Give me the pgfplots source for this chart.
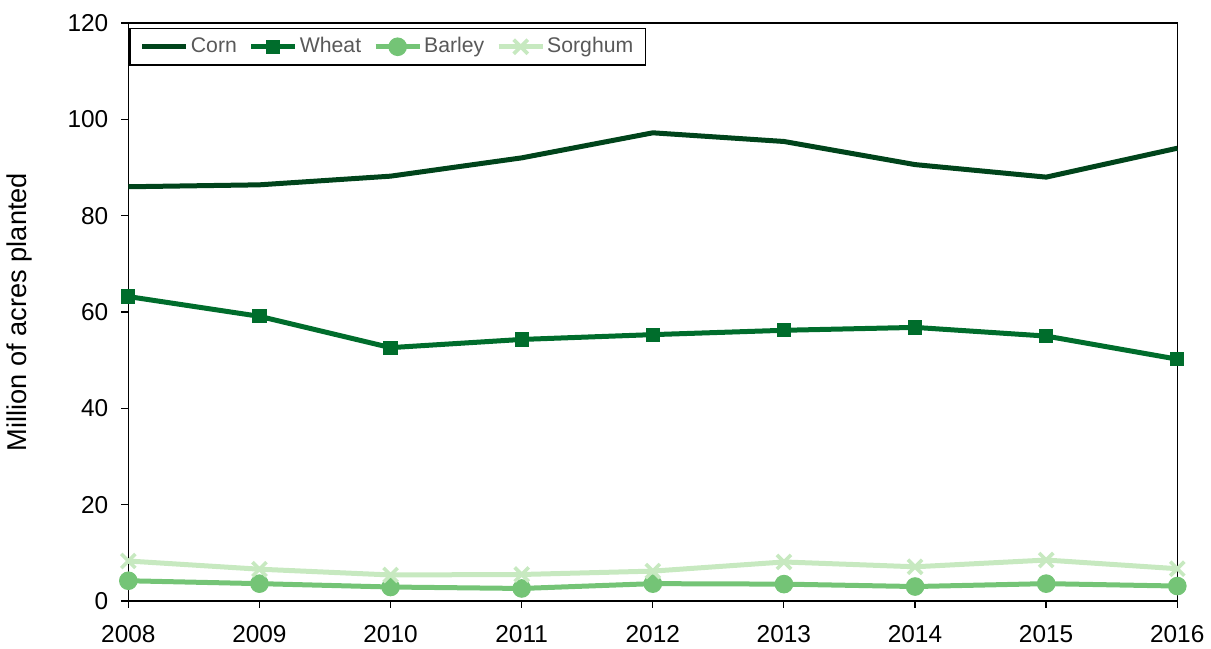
\documentclass[border=0pt]{standalone}
\usepackage{pgfplots}
\pgfplotsset{compat=1.18}
\usepackage{fontspec}
\setmainfont{Liberation Sans}
\definecolor{corn}{HTML}{00441B}
\definecolor{wheat}{HTML}{006D2C}
\definecolor{barley}{HTML}{74C476}
\definecolor{sorghum}{HTML}{C7E9C0}
\definecolor{legtext}{HTML}{595959}
\begin{document}
\begin{tikzpicture}
\begin{axis}[
  scale only axis,
  width=524.5pt, height=289pt,
  xmin=2008, xmax=2016, ymin=0, ymax=120,
  xtick={2008,...,2016},
  ytick={0,20,...,120},
  xticklabel style={/pgf/number format/1000 sep={}},
  /pgf/number format/assume math mode=true,
  tick align=outside,
  major tick length=3.5pt,
  tick style={black, line width=0.6pt},
  xtick pos=bottom, ytick pos=left,
  axis line style={line width=0.6pt},
  ticklabel style={font=\fontsize{12.2}{14}\selectfont},
  yticklabel style={xshift=-3pt},
  xticklabel style={yshift=-5pt},
  ylabel={Million of acres planted},
  every axis y label/.style={at={(axis description cs:0,0.5)}, rotate=90, anchor=center, yshift=54.5pt,
    font=\fontsize{13.6}{16}\selectfont},
  clip=false,
  legend style={at={(0,1)}, anchor=north west, xshift=0.5pt, yshift=-2.5pt, legend columns=4,
    draw=black, line width=0.6pt, font=\fontsize{10.6}{13}\selectfont\color{legtext},
    inner xsep=5pt, inner ysep=2.5pt, nodes={inner xsep=1pt},
    /tikz/every even column/.append style={column sep=5pt}},
  legend image code/.code={\draw[mark repeat=2,mark phase=2,#1] plot coordinates {(0pt,0pt) (11pt,0pt) (22pt,0pt)};},
  legend cell align=left,
]
\addplot[corn, line width=2.5pt, mark=none] coordinates {
(2008,86.0) (2009,86.4) (2010,88.2) (2011,92.0) (2012,97.2) (2013,95.4) (2014,90.6) (2015,88.0) (2016,94.0)};
\addlegendentry{Corn}
\addplot[wheat, line width=2.5pt, mark=square*, mark size=3.3pt, mark options={line width=0.5pt}] coordinates {
(2008,63.2) (2009,59.1) (2010,52.6) (2011,54.3) (2012,55.3) (2013,56.2) (2014,56.8) (2015,55.0) (2016,50.2)};
\addlegendentry{Wheat}
\addplot[barley, line width=2.5pt, mark=*, mark size=4.4pt, mark options={line width=0.5pt}] coordinates {
(2008,4.2) (2009,3.6) (2010,2.9) (2011,2.6) (2012,3.6) (2013,3.5) (2014,3.0) (2015,3.6) (2016,3.1)};
\addlegendentry{Barley}
\addplot[sorghum, line width=2.5pt, mark=x, mark size=5pt, mark options={line width=1.8pt}] coordinates {
(2008,8.3) (2009,6.6) (2010,5.4) (2011,5.5) (2012,6.2) (2013,8.1) (2014,7.1) (2015,8.5) (2016,6.7)};
\addlegendentry{Sorghum}
\end{axis}
\path ([yshift=11.5pt]current axis.north west);
\end{tikzpicture}
\end{document}
